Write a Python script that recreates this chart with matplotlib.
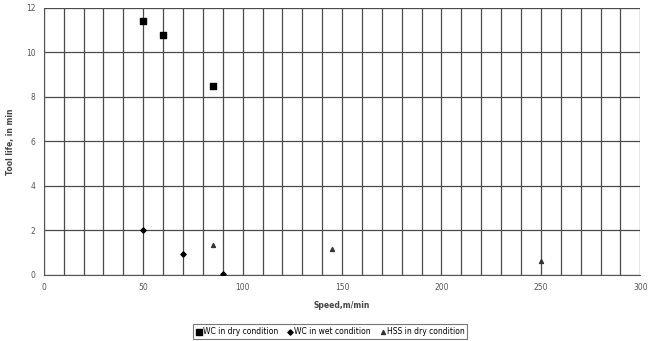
#import libraries
import numpy as np
import matplotlib.pyplot as plt
from matplotlib.ticker import MultipleLocator

#data
wc_dry_speed = [50, 60, 85]
wc_dry_life = [11.4, 10.8, 8.5]
wc_wet_speed = [50, 70, 90]
wc_wet_life = [2.0, 0.95, 0.05]
hss_dry_speed = [85, 145, 250]
hss_dry_life = [1.35, 1.17, 0.63]

def main():
	fs = 5.5
	f = plt.figure(figsize=(6.54, 3.41), dpi=100)
	ax = f.add_axes([0.067, 0.194, 0.912, 0.783])
	#grid lines every 10 on x, every 2 on y
	ax.xaxis.set_major_locator(MultipleLocator(50))
	ax.xaxis.set_minor_locator(MultipleLocator(10))
	ax.yaxis.set_major_locator(MultipleLocator(2))
	ax.grid(which='both', color='#4a4a4a', linewidth=0.9)
	ax.set_axisbelow(True)
	ax.set_xlim(0, 300)
	ax.set_ylim(0, 12)
	#plot the three series
	ax.scatter(wc_dry_speed, wc_dry_life, marker='s', s=22, color='black', label='WC in dry condition', zorder=3)
	ax.scatter(wc_wet_speed, wc_wet_life, marker='D', s=7, color='black', label='WC in wet condition', zorder=3)
	ax.scatter(hss_dry_speed, hss_dry_life, marker='^', s=8, color='#333333', label='HSS in dry condition', zorder=3)
	for s in ['top', 'right']:
		ax.spines[s].set_visible(False)
	for s in ['left', 'bottom']:
		ax.spines[s].set_color('#555555')
	ax.tick_params(which='both', length=0, labelsize=fs, colors='#555555', pad=6)
	ax.set_xlabel('Speed,m/min', fontsize=fs, fontweight='bold', color='#444444', labelpad=6)
	ax.set_ylabel('Tool life, in min', fontsize=fs, fontweight='bold', color='#444444', labelpad=8)
	leg = ax.legend(loc='upper center', bbox_to_anchor=(0.48, -0.17), ncol=3, fontsize=fs,
		frameon=True, fancybox=False, edgecolor='#555555', handletextpad=0.1, columnspacing=1.2,
		borderpad=0.4, handlelength=0.8, markerscale=1.0)
	leg.get_frame().set_linewidth(0.8)
	plt.savefig('out.png', dpi=100)

#execute main()
if __name__ == "__main__":
	main()
